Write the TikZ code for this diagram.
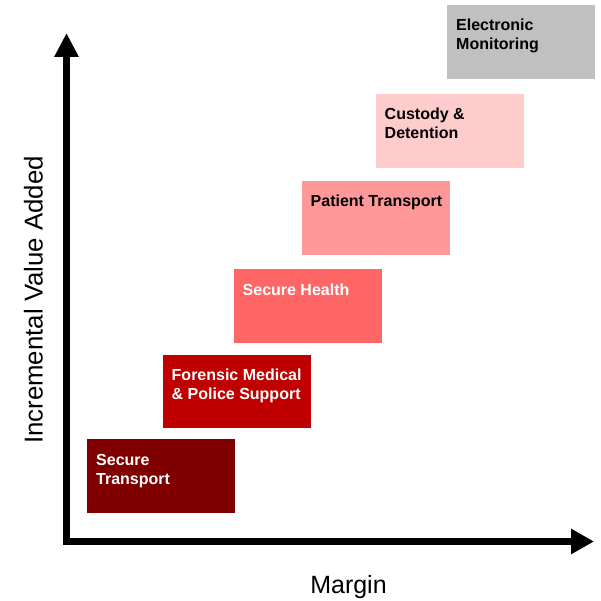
\documentclass[tikz,border=0pt]{standalone}
\usepackage{fontspec}
\setmainfont{Liberation Sans}
\usetikzlibrary{arrows.meta}
\definecolor{cST}{HTML}{800000}
\definecolor{cFM}{HTML}{C00000}
\definecolor{cSH}{HTML}{FF6666}
\definecolor{cPT}{HTML}{FF9999}
\definecolor{cCD}{HTML}{FFCCCC}
\definecolor{cEM}{HTML}{C0C0C0}
\newcommand{\boxlbl}[1]{\parbox[t]{140pt}{\fontsize{16}{19}\selectfont\bfseries\raggedright #1}}
\begin{document}
\begin{tikzpicture}[x=1pt,y=-1pt,
  stagebox/.style={draw=none,rectangle,inner sep=0,minimum width=148pt,minimum height=73.5pt,anchor=north west},
  stagelbl/.style={anchor=base west,inner sep=0},
  axisline/.style={line width=7.5pt,line join=miter,{Triangle[length=24pt,width=23pt]}-{Triangle[length=23pt,width=24pt]}},
  axislbl/.style={font=\fontsize{25}{30}\selectfont,inner sep=0}]
\useasboundingbox[fill=white] (0,0) rectangle (600,601);
% boxes
\node[stagebox,fill=cST] (b1) at (87,439) {};
\node[stagebox,fill=cFM] (b2) at (163,354.5) {};
\node[stagebox,fill=cSH] (b3) at (234,269) {};
\node[stagebox,fill=cPT] (b4) at (302,181) {};
\node[stagebox,fill=cCD] (b5) at (376,94) {};
\node[stagebox,fill=cEM] (b6) at (447,5) {};
% labels
\node[stagelbl,text=white] (l1) at ([shift={(9pt,-26pt)}]b1.north west) {\boxlbl{Secure\\Transport}};
\node[stagelbl,text=white] (l2) at ([shift={(8.5pt,-26pt)}]b2.north west) {\boxlbl{Forensic Medical\\\& Police Support}};
\node[stagelbl,text=white] (l3) at ([shift={(8.5pt,-26pt)}]b3.north west) {\boxlbl{Secure Health}};
\node[stagelbl,text=black] (l4) at ([shift={(8.5pt,-25.5pt)}]b4.north west) {\boxlbl{Patient Transport}};
\node[stagelbl,text=black] (l5) at ([shift={(8.5pt,-25.5pt)}]b5.north west) {\boxlbl{Custody \&\\Detention}};
\node[stagelbl,text=black] (l6) at ([shift={(9pt,-26pt)}]b6.north west) {\boxlbl{Electronic\\Monitoring}};
% axes
\coordinate (ytop) at (66.5,33);
\coordinate (orig) at (66.5,541.5);
\coordinate (xend) at (594,541.5);
\draw[axisline] (ytop) -- (orig) -- (xend);
\node[axislbl,anchor=base,rotate=90,font=\fontsize{25.8}{30}\selectfont] (ylab) at (42.5,300) {Incremental Value Added};
\node[axislbl,anchor=base] (xlab) at (348.5,593) {Margin};
\end{tikzpicture}
\end{document}
